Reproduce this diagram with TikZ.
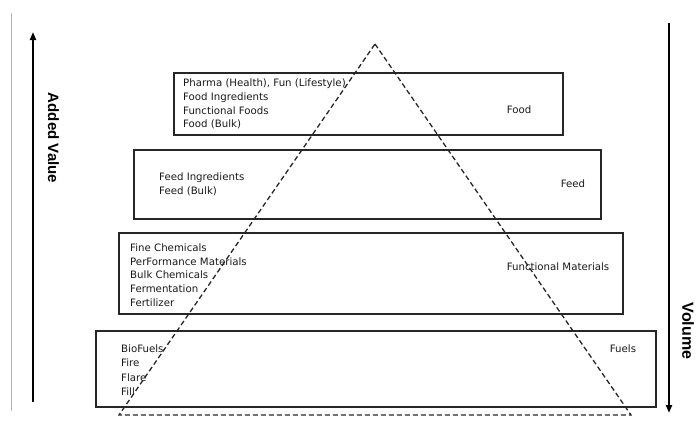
\documentclass[tikz,border=0pt]{standalone}
\usepackage{fontspec}
\setmainfont{DejaVu Sans}
\newfontfamily\labelfont{Liberation Sans}
\usetikzlibrary{arrows.meta}
\begin{document}
\begin{tikzpicture}[x=1pt,y=-1pt,
  tier/.style={draw=black!85, line width=1.5pt, inner sep=0pt, anchor=north west},
  items/.style={anchor=west, inner sep=0pt, align=left, font=\fontsize{10.2}{13.6}\selectfont, text=black!90},
  tag/.style={inner sep=0pt, font=\fontsize{10.2}{13.6}\selectfont, text=black!90},
  axis/.style={line width=2pt, -{Triangle[length=8pt,width=6pt]}},
  axlabel/.style={inner sep=0pt, font=\labelfont\bfseries\fontsize{15}{17}\selectfont},
  tri/.style={line width=1.3pt, dash pattern=on 5pt off 3pt, black!85}]
\useasboundingbox (0,0) rectangle (696,421);
% left border rule
\coordinate (g1) at (11,13);
\coordinate (g2) at (11,411);
\draw[black!30, line width=0.8pt] (g1) -- (g2);
% axes
\coordinate (a1) at (33,402);
\coordinate (a2) at (33,32);
\draw[axis] (a1) -- (a2);
\node[axlabel, rotate=-90] (av) at (53.5,138) {Added Value};
\coordinate (v1) at (669,23);
\coordinate (v2) at (669,413);
\draw[axis] (v1) -- (v2);
\node[axlabel, rotate=-90, font=\labelfont\bfseries\fontsize{16}{18}\selectfont] (vol) at (688,331) {Volume};
% tiers
\node[tier, minimum width=389pt, minimum height=62pt] (b1) at (173,72) {};
\node[items] (t1) at (183,104) {Pharma (Health), Fun (Lifestyle)\\Food Ingredients\\Functional Foods\\Food (Bulk)};
\node[tag] (l1) at (519,110) {Food};
\node[tier, minimum width=467pt, minimum height=69pt] (b2) at (133,149) {};
\node[items] (t2) at (159,184.5) {Feed Ingredients\\Feed (Bulk)};
\node[tag] (l2) at (573,184) {Feed};
\node[tier, minimum width=504pt, minimum height=81pt] (b3) at (118,232) {};
\node[items] (t3) at (130,275) {Fine Chemicals\\PerFormance Materials\\Bulk Chemicals\\Fermentation\\Fertilizer};
\node[tag] (l3) at (558,267) {Functional Materials};
\node[tier, minimum width=560pt, minimum height=76pt] (b4) at (95,330) {};
\node[items, font=\fontsize{10.2}{14.3}\selectfont] (t4) at (121,370) {BioFuels\\Fire\\Flare\\Fill};
\node[tag] (l4) at (623,349) {Fuels};
% pyramid
\coordinate (apex) at (375,44);
\coordinate (bl) at (119,415);
\coordinate (br) at (631,415);
\draw[tri] (apex) -- (br) -- (bl) -- cycle;
\end{tikzpicture}
\end{document}
